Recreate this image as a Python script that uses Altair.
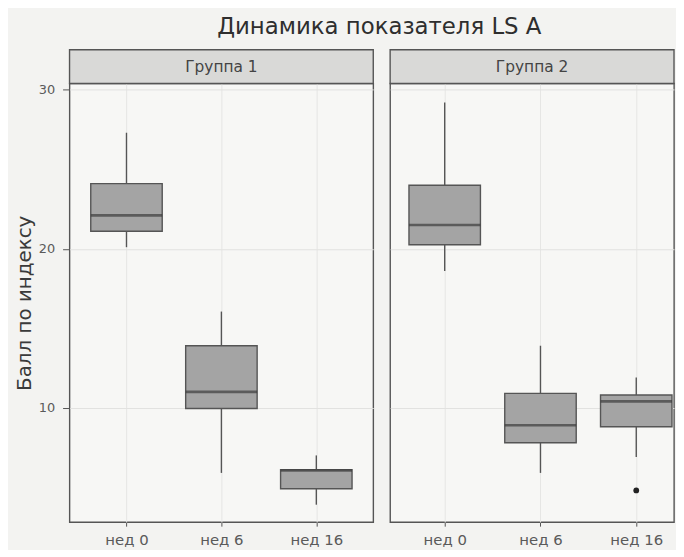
import altair as alt
import pandas as pd

weeks = ["нед 0", "нед 6", "нед 16"]
groups = ["Группа 1", "Группа 2"]

# box statistics (per group, per week)
g1_lower = [20.1, 5.9, 3.9]
g1_q1 = [21.1, 9.95, 4.9]
g1_median = [22.1, 11.0, 6.05]
g1_q3 = [24.1, 13.9, 6.1]
g1_upper = [27.3, 16.05, 7.0]

g2_lower = [18.6, 5.9, 6.9]
g2_q1 = [20.25, 7.8, 8.8]
g2_median = [21.5, 8.9, 10.4]
g2_q3 = [24.0, 10.9, 10.8]
g2_upper = [29.2, 13.9, 11.9]

outlier_group = ["Группа 2"]
outlier_week = ["нед 16"]
outlier_value = [4.8]

title_text = "Динамика показателя LS A"
y_title = "Балл по индексу"

rows = []
for g, lo, a, m, b, hi in [
    (groups[0], g1_lower, g1_q1, g1_median, g1_q3, g1_upper),
    (groups[1], g2_lower, g2_q1, g2_median, g2_q3, g2_upper),
]:
    for i, w in enumerate(weeks):
        rows.append({"group": g, "week": w, "lower": lo[i], "q1": a[i],
                     "median": m[i], "q3": b[i], "upper": hi[i]})
stats = pd.DataFrame(rows)
outliers = pd.DataFrame({"group": outlier_group, "week": outlier_week, "value": outlier_value})
strips = pd.DataFrame({"group": groups})

FONT = "DejaVu Sans"
DARK = "#555555"
BOX_W = 72
H = 442
STRIP_H = 34

yscale = alt.Scale(domain=[2.8, 30.4], nice=False, zero=False)


def panel(g, width, xscale, first):
    if first:
        yaxis = alt.Axis(values=[10, 20, 30], tickSize=7, tickColor=DARK, labelPadding=8,
                         labelFontSize=13, labelColor="#5a5a5a", labelFont=FONT,
                         title=y_title, titleFontSize=20, titleFontWeight="normal",
                         titleColor="#3a3a3a", titleFont=FONT, titlePadding=4,
                         grid=True, gridColor="#e2e2e0", domain=False)
    else:
        yaxis = alt.Axis(values=[10, 20, 30], ticks=False, labels=False, title=None,
                         grid=True, gridColor="#e2e2e0", domain=False)
    xaxis = alt.Axis(title=None, tickSize=4, tickColor=DARK, labelPadding=6,
                     labelFontSize=15, labelColor="#5a5a5a", labelFont=FONT, labelAngle=0,
                     grid=True, gridColor="#e6e6e4", domain=False)
    X = alt.X("week:N", sort=weeks, scale=xscale, axis=xaxis)
    base = alt.Chart(stats).transform_filter(alt.datum.group == g)
    whisk = base.mark_rule(color=DARK, strokeWidth=1.4).encode(
        x=X, y=alt.Y("lower:Q", scale=yscale, axis=yaxis), y2="upper:Q")
    box = base.mark_bar(size=BOX_W, fill="#a4a4a4", stroke=DARK, strokeWidth=1.4).encode(
        x=X, y=alt.Y("q1:Q", scale=yscale), y2="q3:Q")
    med = base.mark_tick(size=BOX_W, thickness=2.6, color="#3c3c3c", orient="horizontal").encode(
        x=X, y=alt.Y("median:Q", scale=yscale))
    out = alt.Chart(outliers).transform_filter(alt.datum.group == g).mark_circle(
        size=34, color="#222222", opacity=1).encode(
        x=alt.X("week:N", sort=weeks, scale=xscale), y=alt.Y("value:Q", scale=yscale))
    sbase = alt.Chart(strips).transform_filter(alt.datum.group == g)
    srect = sbase.mark_rect(fill="#d9d9d7", stroke=DARK, strokeWidth=1.4).encode(
        x=alt.value(0), x2=alt.value(width), y=alt.value(-STRIP_H), y2=alt.value(0))
    stext = sbase.mark_text(fontSize=15.5, color="#444444", font=FONT).encode(
        x=alt.value(width / 2), y=alt.value(-STRIP_H / 2), text="group:N")
    return alt.layer(whisk, box, med, out, srect, stext).properties(width=width, height=H)


p1 = panel(groups[0], 306, alt.Scale(type="point", domain=weeks, padding=0.6), True)
p2 = panel(groups[1], 286, alt.Scale(type="point", domain=weeks, padding=0.482, align=0.591), False)

chart = alt.hconcat(p1, p2, spacing=13).properties(
    title=alt.TitleParams(title_text, fontSize=23, fontWeight="normal", color="#2e2e2e",
                          font=FONT, anchor="middle", dx=35, offset=9),
    padding={"left": 5, "top": 6, "right": 0, "bottom": 0},
).configure(background="#f3f3f1").configure_view(
    stroke=DARK, strokeWidth=1.4, fill="#f7f7f5")

chart.save("out.html", embed_options={"renderer": "svg", "actions": False})
